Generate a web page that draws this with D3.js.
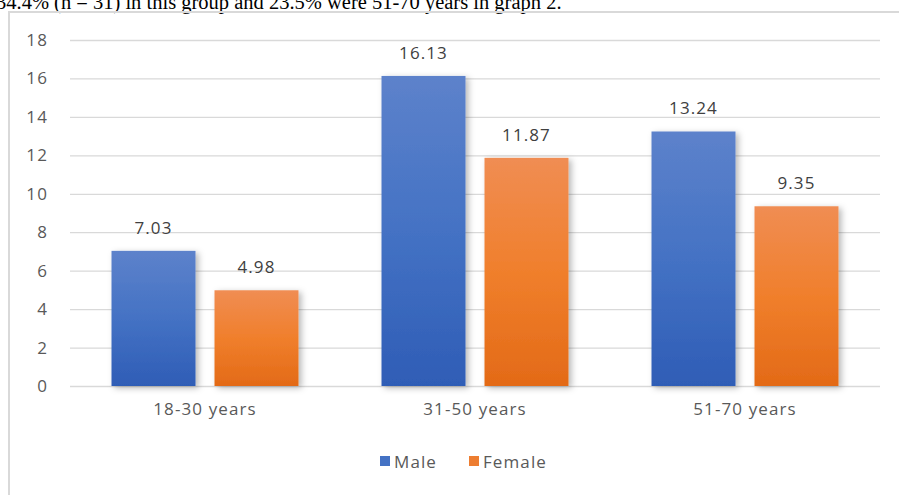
<!DOCTYPE html>
<html>
<head>
<meta charset="utf-8">
<script src="https://cdn.jsdelivr.net/npm/d3@7"></script>
<style>
  html, body { margin: 0; padding: 0; background: #fff; overflow: hidden; }
  svg { display: block; }
</style>
</head>
<body>
<script>
// Age groups and mean values per sex
const categories = ["18-30 years", "31-50 years", "51-70 years"];
const seriesNames = ["Male", "Female"];
const maleValues = [7.03, 16.13, 13.24];
const femaleValues = [4.98, 11.87, 9.35];
const yTicks = [0, 2, 4, 6, 8, 10, 12, 14, 16, 18];
const captionText = "34.4% (n = 31) in this group and 23.5% were 51-70 years in graph 2.";

const W = 899, H = 495;
const svg = d3.select("body").append("svg").attr("width", W).attr("height", H);

const defs = svg.append("defs");
const grads = [
  { id: "gMale", top: "#5d82cb", mid: "#4472c4", bot: "#2f5db6" },
  { id: "gFemale", top: "#f08d53", mid: "#f07f2c", bot: "#e36a17" }
];
grads.forEach(g => {
  const lg = defs.append("linearGradient").attr("id", g.id)
    .attr("x1", 0).attr("y1", 0).attr("x2", 0).attr("y2", 1);
  lg.append("stop").attr("offset", "0%").attr("stop-color", g.top);
  lg.append("stop").attr("offset", "50%").attr("stop-color", g.mid);
  lg.append("stop").attr("offset", "100%").attr("stop-color", g.bot);
});
const shadow = defs.append("filter").attr("id", "shadow")
  .attr("x", "-20%").attr("y", "-20%").attr("width", "150%").attr("height", "150%");
shadow.append("feDropShadow").attr("dx", 3).attr("dy", 2).attr("stdDeviation", 3)
  .attr("flood-color", "#000").attr("flood-opacity", 0.28);

// Surrounding text line, partly cut off at the top edge
svg.append("text")
  .attr("x", -4).attr("y", 9)
  .attr("font-family", "'Liberation Serif', 'Times New Roman', serif")
  .attr("font-size", 20.5).attr("fill", "#000")
  .text(captionText);

// Chart frame
svg.append("path")
  .attr("d", `M9,${H} V12 H${W}`)
  .attr("fill", "none").attr("stroke", "#d9d9d9").attr("stroke-width", 2);

const margin = { left: 70, right: 19, top: 40, bottom: 109 };
const x0 = d3.scaleBand().domain(categories).range([margin.left, W - margin.right]).paddingInner(0).paddingOuter(0);
const x1 = d3.scaleBand().domain(seriesNames).range([0, x0.bandwidth()]).paddingInner(0.1845).paddingOuter(0.403);
const y = d3.scaleLinear().domain([0, 18]).range([H - margin.bottom, margin.top]);

const fontFam = "'Open Sans', 'Noto Sans', sans-serif";
const fs = 17;
const ls = "1.1px";

// Gridlines
const yAxis = d3.axisLeft(y).tickValues(yTicks).tickSize(-(W - margin.right - margin.left)).tickPadding(22);
const gy = svg.append("g").attr("transform", `translate(${margin.left},0)`).call(yAxis);
gy.select(".domain").remove();
gy.selectAll(".tick line").attr("stroke", "#d9d9d9").attr("stroke-width", 1.3);
gy.selectAll(".tick text").attr("font-family", fontFam).attr("font-size", fs)
  .attr("letter-spacing", ls).attr("fill", "#595959");

// Category axis labels
const xAxis = d3.axisBottom(x0).tickSize(0).tickPadding(17);
const gx = svg.append("g").attr("transform", `translate(0,${y(0)})`).call(xAxis);
gx.select(".domain").remove();
gx.selectAll(".tick text").attr("font-family", fontFam).attr("font-size", fs)
  .attr("letter-spacing", ls).attr("fill", "#595959");

const rows = categories.map((c, i) => ({ cat: c, values: [
  { key: "Male", v: maleValues[i], fill: "url(#gMale)" },
  { key: "Female", v: femaleValues[i], fill: "url(#gFemale)" }
]}));

const groups = svg.append("g").selectAll("g").data(rows).join("g")
  .attr("transform", d => `translate(${x0(d.cat)},0)`);

groups.selectAll("rect").data(d => d.values).join("rect")
  .attr("x", d => x1(d.key))
  .attr("y", d => y(d.v))
  .attr("width", x1.bandwidth())
  .attr("height", d => y(0) - y(d.v))
  .attr("fill", d => d.fill)
  .attr("filter", "url(#shadow)");

groups.selectAll("text.val").data(d => d.values).join("text")
  .attr("class", "val")
  .attr("x", d => x1(d.key) + x1.bandwidth() / 2)
  .attr("y", d => y(d.v) - 17)
  .attr("text-anchor", "middle")
  .attr("font-family", fontFam).attr("font-size", fs)
  .attr("letter-spacing", ls).attr("fill", "#404040")
  .text(d => d.v.toFixed(2));

// Legend
const legendData = [
  { key: "Male", fill: "#4472c4", x: 380 },
  { key: "Female", fill: "#ed7d31", x: 469 }
];
const lg = svg.append("g").selectAll("g").data(legendData).join("g")
  .attr("transform", d => `translate(${d.x},456)`);
lg.append("rect").attr("width", 10).attr("height", 10).attr("fill", d => d.fill);
lg.append("text").attr("x", 14).attr("y", 11.5)
  .attr("font-family", fontFam).attr("font-size", fs)
  .attr("letter-spacing", ls).attr("fill", "#595959")
  .text(d => d.key);
</script>
</body>
</html>
